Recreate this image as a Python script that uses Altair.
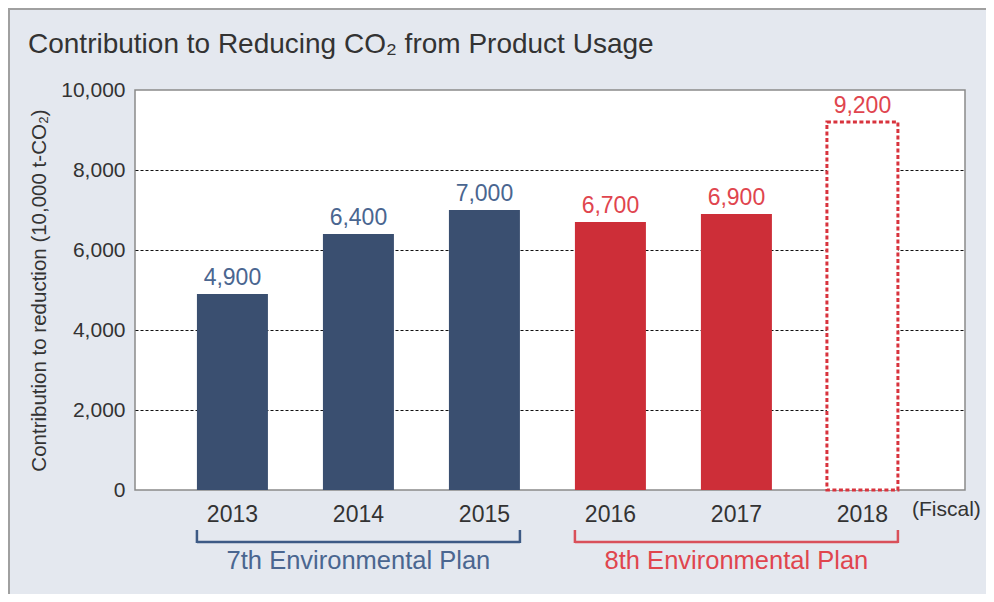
import altair as alt
import pandas as pd

years = ["2013", "2014", "2015", "2016", "2017", "2018"]
values = [4900, 6400, 7000, 6700, 6900, 9200]
plans = ["7th", "7th", "7th", "8th", "8th", "8th"]
kinds = ["result", "result", "result", "result", "result", "target"]

plan_names = ["7th", "8th"]
plan_labels = ["7th Environmental Plan", "8th Environmental Plan"]
plan_start = ["2013", "2016"]
plan_end = ["2015", "2018"]
plan_mid = ["2014", "2017"]

title_text = "Contribution to Reducing CO₂ from Product Usage"
y_title = "Contribution to reduction (10,000 t-CO₂)"
fiscal_text = "(Fiscal)"

bar_colors = ["#3a4f70", "#cd2e38"]
label_colors = ["#4a6690", "#e0454e"]
bracket_colors = ["#3d5a85", "#d9505a"]

FONT = "Liberation Sans"

df = pd.DataFrame({"year": years, "value": values, "plan": plans, "kind": kinds})
br = pd.DataFrame({"plan": plan_names, "label": plan_labels, "start": plan_start,
                   "end": plan_end, "mid": plan_mid})

xscale = alt.Scale(domain=years, paddingInner=0.4365, paddingOuter=0.512, align=0.48)
yscale = alt.Scale(domain=[0, 10000])

xaxis = alt.Axis(title=None, labelAngle=0, labelFontSize=23, labelColor="#333333",
                 labelFont=FONT, ticks=False, domain=False, labelPadding=13)

x = alt.X("year:N", scale=xscale, sort=years, axis=xaxis, title=None)
y = alt.Y("value:Q", scale=yscale,
          axis=alt.Axis(title=y_title,
                        values=[0, 2000, 4000, 6000, 8000, 10000], format=",.0f",
                        labelFontSize=21, labelColor="#333333", labelFont=FONT,
                        labelPadding=10, ticks=False, domain=False,
                        titleFont=FONT, titleFontSize=20.5, titleColor="#333333",
                        titleFontWeight="normal", titlePadding=11,
                        grid=True, gridColor="#111111", gridDash=[3, 2], gridWidth=1,
                        gridOpacity={"condition": {"test": "datum.value > 0 && datum.value < 10000", "value": 1}, "value": 0}))

base = alt.Chart(df)

solid = base.transform_filter("datum.kind == 'result'").mark_bar().encode(
    x=x, y=y,
    color=alt.Color("plan:N", scale=alt.Scale(domain=plan_names, range=bar_colors), legend=None),
)

target = base.transform_filter("datum.kind == 'target'").mark_bar(
    fill="white", stroke="#d8333d", strokeWidth=3, strokeDash=[4, 2.5]
).encode(x=x, y=y)

labels = base.mark_text(baseline="bottom", dy=-4, fontSize=23, font=FONT).encode(
    x=x, y=y,
    text=alt.Text("value:Q", format=",.0f"),
    color=alt.Color("plan:N", scale=alt.Scale(domain=plan_names, range=label_colors), legend=None),
)

bcolor = alt.Color("plan:N", scale=alt.Scale(domain=plan_names, range=bracket_colors), legend=None)
bb = alt.Chart(br)
left_leg = bb.mark_rule(strokeWidth=2.5).encode(
    x=alt.X("start:N", scale=xscale, bandPosition=0, axis=xaxis, title=None),
    y=alt.value(440), y2=alt.value(453), color=bcolor)
right_leg = bb.mark_rule(strokeWidth=2.5).encode(
    x=alt.X("end:N", scale=xscale, bandPosition=1, axis=xaxis, title=None),
    y=alt.value(440), y2=alt.value(453), color=bcolor)
horiz = bb.mark_rule(strokeWidth=2.5).encode(
    x=alt.X("start:N", scale=xscale, bandPosition=0, axis=xaxis, title=None),
    x2=alt.X2("end:N", bandPosition=1),
    y=alt.value(452), color=bcolor)
plan_text = bb.mark_text(fontSize=25.5, font=FONT, baseline="middle").encode(
    x=alt.X("mid:N", scale=xscale, bandPosition=0.5, axis=xaxis, title=None),
    y=alt.value(471), text="label:N",
    color=alt.Color("plan:N", scale=alt.Scale(domain=plan_names, range=label_colors), legend=None))

fiscal = alt.Chart(pd.DataFrame({"t": [fiscal_text]})).mark_text(
    align="left", baseline="middle", fontSize=21, font=FONT, color="#333333"
).encode(x=alt.value(777), y=alt.value(420), text="t:N")

title = alt.Chart(pd.DataFrame({"t": [title_text]})).mark_text(
    align="left", baseline="middle", fontSize=28, font=FONT, color="#333333"
).encode(x=alt.value(-107), y=alt.value(-45), text="t:N")

border_df = pd.DataFrame({"k": [1]})
border_left = alt.Chart(border_df).mark_rule(color="#a0a0a0", strokeWidth=2).encode(
    x=alt.value(-126), y=alt.value(-82), y2=alt.value(520))
border_top = alt.Chart(border_df).mark_rule(color="#a0a0a0", strokeWidth=2).encode(
    x=alt.value(-127), x2=alt.value(860), y=alt.value(-81))

chart = alt.layer(
    solid, target, labels, left_leg, right_leg, horiz, plan_text, fiscal, title,
    border_left, border_top
).properties(
    width=830, height=400,
    autosize=alt.AutoSizeParams(type="none"),
    padding={"left": 127, "top": 82, "right": 21, "bottom": 104},
    background="#e4e8ef",
).configure_view(
    fill="white", stroke="#8a8a8a", strokeWidth=1.5
).resolve_scale(color="independent")

chart.save("out.html", embed_options={"renderer": "svg", "actions": False})
